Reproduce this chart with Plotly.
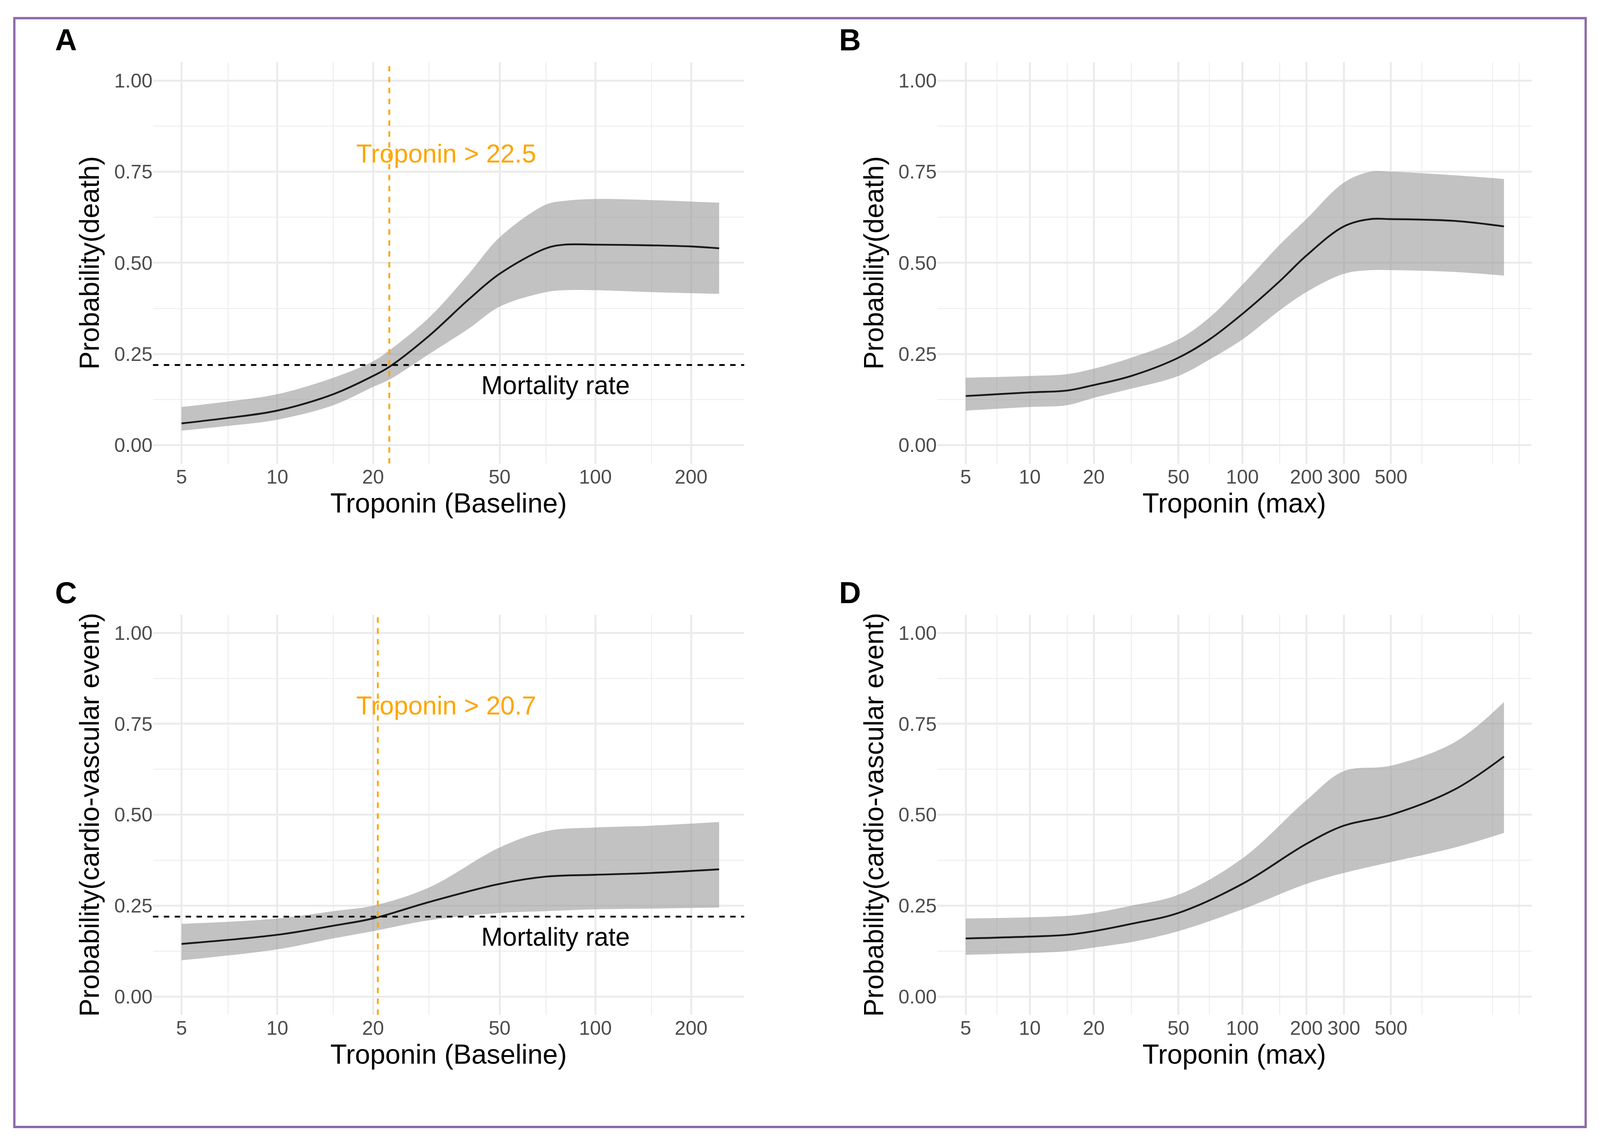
import numpy as np
import plotly.graph_objects as go

S = 4326 / 1564 * 1.4  # display-to-real scale for text and strokes

# Panel A: death vs baseline troponin
a_x = [5, 7, 10, 15, 20, 22.5, 30, 40, 50, 70, 80, 100, 150, 200, 245]
a_mid = [0.06, 0.075, 0.095, 0.14, 0.19, 0.215, 0.30, 0.40, 0.47, 0.54, 0.55, 0.55, 0.548, 0.545, 0.54]
a_hi = [0.105, 0.12, 0.14, 0.185, 0.23, 0.26, 0.35, 0.47, 0.57, 0.66, 0.67, 0.675, 0.672, 0.668, 0.665]
a_lo = [0.04, 0.053, 0.07, 0.11, 0.16, 0.18, 0.25, 0.32, 0.38, 0.42, 0.425, 0.425, 0.42, 0.417, 0.415]
# Panel B: death vs max troponin
b_x = [5, 10, 15, 20, 30, 50, 70, 100, 150, 200, 300, 400, 500, 1000, 1700]
b_mid = [0.135, 0.145, 0.15, 0.165, 0.19, 0.24, 0.29, 0.36, 0.45, 0.52, 0.60, 0.62, 0.62, 0.615, 0.60]
b_hi = [0.185, 0.19, 0.195, 0.21, 0.24, 0.29, 0.35, 0.44, 0.55, 0.62, 0.72, 0.75, 0.75, 0.74, 0.73]
b_lo = [0.095, 0.105, 0.11, 0.13, 0.155, 0.19, 0.235, 0.29, 0.37, 0.42, 0.47, 0.48, 0.48, 0.475, 0.465]
# Panel C: cardiovascular event vs baseline troponin
c_x = [5, 10, 15, 20, 30, 50, 70, 100, 150, 245]
c_mid = [0.145, 0.17, 0.195, 0.215, 0.26, 0.31, 0.33, 0.335, 0.34, 0.35]
c_hi = [0.20, 0.215, 0.235, 0.25, 0.30, 0.41, 0.455, 0.465, 0.47, 0.48]
c_lo = [0.10, 0.13, 0.16, 0.18, 0.21, 0.23, 0.235, 0.24, 0.242, 0.245]
# Panel D: cardiovascular event vs max troponin
d_x = [5, 10, 15, 20, 30, 50, 100, 200, 300, 500, 1000, 1700]
d_mid = [0.16, 0.165, 0.17, 0.18, 0.20, 0.23, 0.31, 0.42, 0.47, 0.50, 0.57, 0.66]
d_hi = [0.215, 0.218, 0.222, 0.23, 0.25, 0.28, 0.38, 0.54, 0.62, 0.635, 0.70, 0.81]
d_lo = [0.115, 0.12, 0.125, 0.135, 0.15, 0.18, 0.24, 0.31, 0.34, 0.37, 0.41, 0.45]

mortality_rate = 0.22
cut_a, cut_c = 22.5, 20.7
base_ticks = [5, 10, 20, 50, 100, 200]
max_ticks = [5, 10, 20, 50, 100, 200, 300, 500]

panels = [
    dict(x=a_x, mid=a_mid, hi=a_hi, lo=a_lo, ax=(0.094, 0.465), ay=(0.595, 0.948),
         xr=(0.609, 2.468), ticks=base_ticks, xt='Troponin (Baseline)', yt='Probability(death)',
         letter='A', cut=cut_a),
    dict(x=b_x, mid=b_mid, hi=b_hi, lo=b_lo, ax=(0.586, 0.959), ay=(0.595, 0.948),
         xr=(0.564, 3.36), ticks=max_ticks, xt='Troponin (max)', yt='Probability(death)',
         letter='B', cut=None),
    dict(x=c_x, mid=c_mid, hi=c_hi, lo=c_lo, ax=(0.094, 0.465), ay=(0.110, 0.462),
         xr=(0.609, 2.468), ticks=base_ticks, xt='Troponin (Baseline)',
         yt='Probability(cardio-vascular event)', letter='C', cut=cut_c),
    dict(x=d_x, mid=d_mid, hi=d_hi, lo=d_lo, ax=(0.586, 0.959), ay=(0.110, 0.462),
         xr=(0.564, 3.36), ticks=max_ticks, xt='Troponin (max)',
         yt='Probability(cardio-vascular event)', letter='D', cut=None),
]

grid = '#ebebeb'
tick_font = dict(family='Liberation Sans, Arial', size=13 * S, color='#4d4d4d')
title_font = dict(family='Liberation Sans, Arial', size=18 * S, color='black')

fig = go.Figure()
shapes, annos = [], []
for i, p in enumerate(panels):
    n = '' if i == 0 else str(i + 1)
    xa, ya = 'x' + n, 'y' + n
    fig.add_trace(go.Scatter(x=p['x'], y=p['lo'], mode='lines', line=dict(width=0, shape='spline'),
                             xaxis=xa, yaxis=ya, showlegend=False, hoverinfo='skip'))
    fig.add_trace(go.Scatter(x=p['x'], y=p['hi'], mode='lines', fill='tonexty',
                             fillcolor='rgba(153,153,153,0.6)', line=dict(width=0, shape='spline'),
                             xaxis=xa, yaxis=ya, showlegend=False, hoverinfo='skip'))
    fig.add_trace(go.Scatter(x=p['x'], y=p['mid'], mode='lines',
                             line=dict(color='#1a1a1a', width=1.2 * S, shape='spline'),
                             xaxis=xa, yaxis=ya, showlegend=False))
    lo_t, hi_t = p['xr']
    minor = [v for d in range(0, 4) for v in (2 * 10 ** d, 3 * 10 ** d, 7 * 10 ** d, 1.5 * 10 ** d)
             if lo_t <= np.log10(v) <= hi_t and v not in p['ticks']]
    fig.update_layout(**{
        ('xaxis' + n): dict(domain=p['ax'], anchor=ya, type='log', range=list(p['xr']),
                            tickvals=p['ticks'], ticktext=[str(t) for t in p['ticks']],
                            showgrid=True, gridcolor=grid, gridwidth=1.2 * S, zeroline=False,
                            minor=dict(tickvals=minor, showgrid=True, gridcolor=grid, gridwidth=0.6 * S),
                            tickfont=tick_font, ticks='', showline=False,
                            title=dict(text=p['xt'], font=title_font, standoff=2 * S)),
        ('yaxis' + n): dict(domain=p['ay'], anchor=xa, range=[-0.05, 1.05],
                            tickvals=[0, 0.25, 0.5, 0.75, 1.0],
                            ticktext=['0.00', '0.25', '0.50', '0.75', '1.00'],
                            showgrid=True, gridcolor=grid, gridwidth=1.2 * S, zeroline=False,
                            minor=dict(tickvals=[0.125, 0.375, 0.625, 0.875], showgrid=True,
                                       gridcolor=grid, gridwidth=0.6 * S),
                            tickfont=tick_font, ticks='', showline=False,
                            title=dict(text=p['yt'], font=title_font, standoff=4 * S)),
    })
    annos.append(dict(text='<b>' + p['letter'] + '</b>', x=p['ax'][0] - 0.062, y=p['ay'][1] + 0.035,
                      xref='paper', yref='paper', showarrow=False, xanchor='left', yanchor='top',
                      font=dict(family='Liberation Sans, Arial', size=20 * S, color='black')))
    if p['cut'] is not None:
        shapes.append(dict(type='line', xref=xa, yref=ya + ' domain', x0=p['cut'], x1=p['cut'], y0=0, y1=1,
                           line=dict(color='#FFA500', width=1.2 * S, dash='dash')))
        shapes.append(dict(type='line', xref=xa + ' domain', yref=ya, x0=0, x1=1,
                           y0=mortality_rate, y1=mortality_rate,
                           line=dict(color='black', width=1.2 * S, dash='dash')))
        annos.append(dict(text='Troponin &gt; %s' % p['cut'], x=np.log10(34), y=0.80, xref=xa, yref=ya,
                          showarrow=False, font=dict(family='Liberation Sans, Arial', size=17 * S,
                                                     color='#FFA500')))
        annos.append(dict(text='Mortality rate', x=np.log10(75), y=0.165, xref=xa, yref=ya,
                          showarrow=False, font=dict(family='Liberation Sans, Arial', size=17 * S,
                                                     color='black')))

shapes.append(dict(type='rect', xref='paper', yref='paper', x0=11 / 1564, x1=1553 / 1564,
                   y0=1 - 1046 / 1058, y1=1 - 14 / 1058, line=dict(color='#8e6aa8', width=1.5 * S)))

fig.update_layout(margin=dict(l=0, r=0, t=0, b=0),
                  plot_bgcolor='white', paper_bgcolor='white', shapes=shapes, annotations=annos)
fig.write_html('out.html')
